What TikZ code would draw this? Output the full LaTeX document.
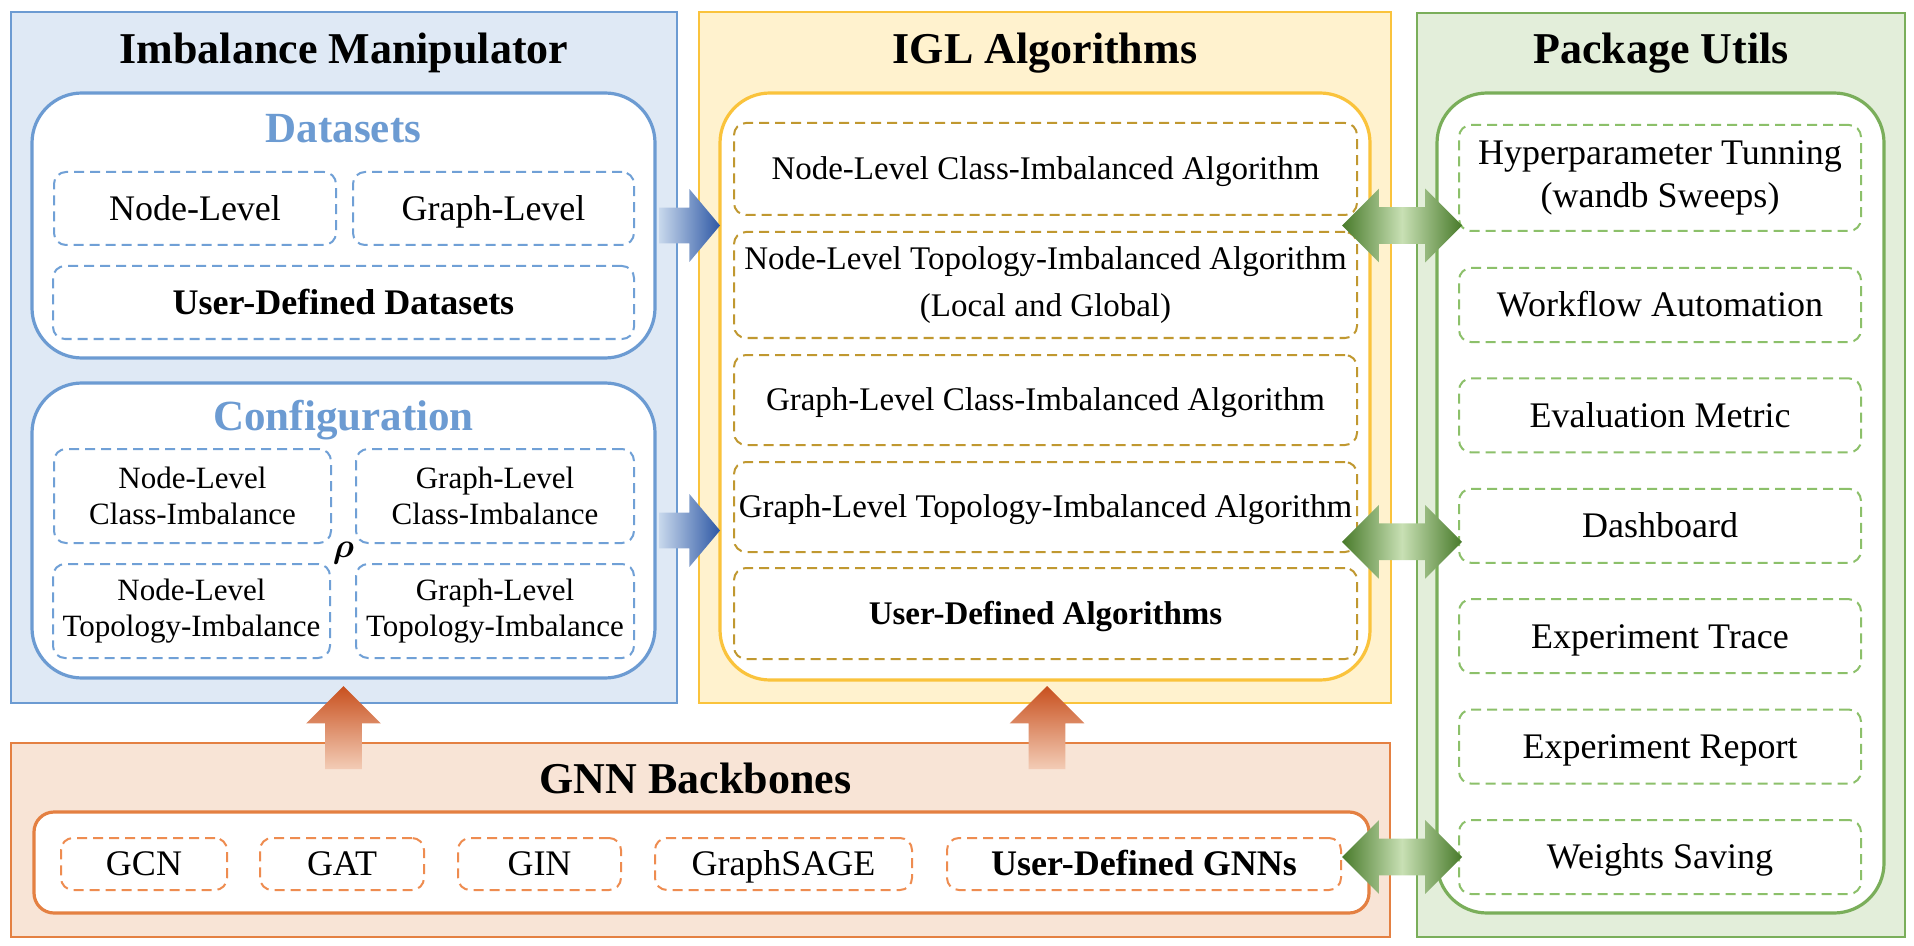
\documentclass[tikz,border=0pt]{standalone}
\usepackage{amsmath}
\usepackage{fontspec}
\setmainfont{Liberation Serif}
\usepackage{tikz}
\usetikzlibrary{positioning,shapes,shapes.arrows,calc}

\definecolor{blueline}{RGB}{108,155,210}
\definecolor{bluefill}{RGB}{223,233,245}
\definecolor{bluedash}{RGB}{112,160,214}
\definecolor{yellowline}{RGB}{250,195,60}
\definecolor{yellowfill}{RGB}{255,242,206}
\definecolor{yellowdash}{RGB}{192,152,48}
\definecolor{greenline}{RGB}{122,174,90}
\definecolor{greenfill}{RGB}{227,238,218}
\definecolor{greendash}{RGB}{140,192,106}
\definecolor{orangeline}{RGB}{228,128,66}
\definecolor{orangefill}{RGB}{248,228,214}
\definecolor{orangedash}{RGB}{238,140,80}
\definecolor{bdark}{RGB}{46,88,165}
\definecolor{blight}{RGB}{200,216,236}
\definecolor{odark}{RGB}{200,80,30}
\definecolor{olight}{RGB}{243,204,182}
\definecolor{gdark}{RGB}{72,122,42}
\definecolor{glight}{RGB}{200,224,180}

\begin{document}
\begin{tikzpicture}[x=0.5pt, y=-0.5pt]
	\tikzstyle{panel}
	  =[draw, rectangle, line width=1.3pt, inner sep=0pt, outer sep=0pt]
	\tikzstyle{box}
	  =[draw, fill=white, rectangle, rounded corners=25pt, line width=1.6pt,
	  inner sep=0pt, outer sep=0pt]
	\tikzstyle{title}
	  =[font=\fontsize{22pt}{26pt}\selectfont\bfseries, text height=14.5pt,
	  text depth=0pt, inner sep=0pt]
	\tikzstyle{subtitle}
	  =[font=\fontsize{21.5pt}{26pt}\selectfont\bfseries, text=blueline,
	  text height=14.2pt, text depth=0pt, inner sep=0pt]
	\tikzstyle{item}
	  =[draw, rectangle, rounded corners=6pt, line width=1pt,
	  dash pattern=on 5pt off 3pt, align=center, inner sep=1pt, outer sep=0pt]

	\tikzstyle{item_data}
	  =[item, draw=bluedash, minimum width=141pt, minimum height=36.5pt,
	  font=\fontsize{18pt}{21pt}\selectfont, text height=11.9pt, text depth=0pt]
	\tikzstyle{item_conf}
	  =[item, draw=bluedash, minimum width=138.5pt, minimum height=47pt,
	  font=\fontsize{15.5pt}{18pt}\selectfont]
	\tikzstyle{item_alg}
	  =[item, draw=yellowdash, minimum width=311.5pt, minimum height=45pt,
	  font=\fontsize{16.5pt}{23.5pt}\selectfont, text height=10.9pt, text depth=0pt]
	\tikzstyle{item_alg_xl}
	  =[item, draw=yellowdash, minimum width=311.5pt, minimum height=53pt,
	  font=\fontsize{16.5pt}{23.5pt}\selectfont]
	\tikzstyle{item_util}
	  =[item, draw=greendash, minimum width=201pt, minimum height=37pt,
	  font=\fontsize{18pt}{21.5pt}\selectfont, text height=11.9pt, text depth=0pt]
	\tikzstyle{item_util_xl}
	  =[item, draw=greendash, minimum width=201pt, minimum height=53pt,
	  font=\fontsize{18pt}{21.5pt}\selectfont]
	\tikzstyle{item_gnn}
	  =[item, draw=orangedash, minimum height=26pt,
	  font=\fontsize{18pt}{21pt}\selectfont, text height=11.9pt, text depth=0pt]

	\tikzstyle{barrow}
	  =[single arrow, minimum height=30.5pt, minimum width=36pt,
	  single arrow head extend=9.25pt, single arrow tip angle=100,
	  inner xsep=0pt, inner ysep=8.75pt, outer sep=0pt,
	  left color=blight, right color=bdark]
	\tikzstyle{oarrow}
	  =[single arrow, shape border rotate=90, minimum height=41.5pt,
	  minimum width=37pt, single arrow head extend=9.5pt,
	  inner sep=9pt, outer sep=0pt, top color=odark, bottom color=olight]
	\tikzstyle{garrow}
	  =[double arrow, minimum height=60pt, minimum width=36.5pt,
	  double arrow head extend=9.25pt, inner sep=9pt, outer sep=0pt,
	  left color=gdark, right color=gdark, middle color=glight]

	\useasboundingbox (0,0) rectangle (1914,946);

	% panels
	\node[panel, draw=blueline, fill=bluefill, anchor=north west,
	  minimum width=333pt, minimum height=345.5pt] (P1)
	  at (11,12) {};
	\node[panel, draw=yellowline, fill=yellowfill,
	  minimum width=346pt, minimum height=345.5pt] (P2)
	  [right=11pt of P1] {};
	\node[panel, draw=greenline, fill=greenfill,
	  minimum width=244pt, minimum height=462pt] (P3)
	  [below right=0.5pt and 13pt of P2.north east] {};
	\node[panel, draw=orangeline, fill=orangefill,
	  minimum width=689.5pt, minimum height=97pt] (P4)
	  [below right=20pt and 0pt of P1.south west] {};

	\node[title] (T1)
	  at ($(P1.north)+(0,37.5)$) {Imbalance Manipulator};
	\node[title] (T2)
	  at ($(P2.north)+(0,37.5)$) {IGL Algorithms};
	\node[title] (T3)
	  at ($(P3.north)+(0,36.5)$) {Package Utils};
	\node[title] (T4)
	  at ($(P4.north)+(-5,35.5)$) {GNN Backbones};

	% imbalance manipulator
	\node[box, draw=blueline, minimum width=311.5pt, minimum height=132.5pt] (DS)
	  [below right=40.5pt and 10.5pt of P1.north west] {};
	\node[subtitle] (DST)
	  at ($(DS.north)+(0,35)$) {Datasets};
	\node[item_data] (D1)
	  [below right=39.5pt and 11pt of DS.north west] {Node-Level};
	\node[item_data, minimum width=140.5pt] (D2)
	  [right=8.5pt of D1] {Graph-Level};
	\node[item_data, minimum width=290.5pt] (D3)
	  [below right=10.5pt and -0.5pt of D1.south west] {\textbf{User-Defined Datasets}};

	\node[box, draw=blueline, minimum width=311.5pt, minimum height=147.5pt] (CF)
	  [below=12.5pt of DS] {};
	\node[subtitle] (CFT)
	  at ($(CF.north)+(0,33)$) {Configuration};
	\node[item_conf] (C1)
	  [below right=33pt and 11pt of CF.north west] {Node-Level\\Class-Imbalance};
	\node[item_conf, minimum width=139pt] (C2)
	  [right=12.5pt of C1] {Graph-Level\\Class-Imbalance};
	\node[item_conf] (C3)
	  [below right=10.5pt and -0.5pt of C1.south west] {Node-Level\\Topology-Imbalance};
	\node[item_conf, minimum width=139pt] (C4)
	  [below right=10.5pt and 0pt of C2.south west] {Graph-Level\\Topology-Imbalance};
	\node[inner sep=0pt] (rho)
	  at ($(C1.south east)!0.5!(C4.north west)$) {\fontsize{17pt}{20pt}\selectfont$\boldsymbol{\rho}$};

	% algorithms
	\node[box, draw=yellowline, minimum width=325pt, minimum height=293.5pt] (AL)
	  [below right=40.5pt and 10.5pt of P2.north west] {};
	\node[item_alg, minimum height=46pt] (A1)
	  [below right=15pt and 7pt of AL.north west] {Node-Level Class-Imbalanced Algorithm};
	\node[item_alg_xl] (A2)
	  [below=8.5pt of A1] {Node-Level Topology-Imbalanced Algorithm\\(Local and Global)};
	\node[item_alg] (A3)
	  [below=8.5pt of A2] {Graph-Level Class-Imbalanced Algorithm};
	\node[item_alg] (A4)
	  [below=8.5pt of A3] {Graph-Level Topology-Imbalanced Algorithm};
	\node[item_alg, minimum height=45.5pt] (A5)
	  [below=8pt of A4] {\textbf{User-Defined Algorithms}};

	% utils
	\node[box, draw=greenline, minimum width=223.5pt, minimum height=410pt] (UT)
	  [below right=40pt and 10pt of P3.north west] {};
	\node[item_util_xl] (U1)
	  [below right=16pt and 11pt of UT.north west] {Hyperparameter Tunning\\(wandb Sweeps)};
	\node[item_util] (U2)
	  [below=18.5pt of U1] {Workflow Automation};
	\node[item_util] (U3)
	  [below=18.2pt of U2] {Evaluation Metric};
	\node[item_util] (U4)
	  [below=18.2pt of U3] {Dashboard};
	\node[item_util] (U5)
	  [below=18.2pt of U4] {Experiment Trace};
	\node[item_util] (U6)
	  [below=18.2pt of U5] {Experiment Report};
	\node[item_util] (U7)
	  [below=18.2pt of U6] {Weights Saving};

	% backbones
	\node[box, draw=orangeline, rounded corners=10pt,
	  minimum width=667.5pt, minimum height=50.5pt] (GB)
	  [below right=34.5pt and 11.5pt of P4.north west] {};
	\node[item_gnn, minimum width=83pt] (B1)
	  [below right=13pt and 13.5pt of GB.north west] {GCN};
	\node[item_gnn, minimum width=82pt] (B2)
	  [right=16.5pt of B1] {GAT};
	\node[item_gnn, minimum width=81.5pt] (B3)
	  [right=17pt of B2] {GIN};
	\node[item_gnn, minimum width=128.5pt] (B4)
	  [right=17pt of B3] {GraphSAGE};
	\node[item_gnn, minimum width=197pt] (B5)
	  [right=17.5pt of B4] {\textbf{User-Defined GNNs}};

	% block arrows
	\node[barrow, anchor=tip] (a1) at (AL.west |- DS.east) {};
	\node[barrow, anchor=tip] (a2) at (AL.west |- CF.east) {};
	\node[oarrow, anchor=tip] (o1) at ($(CF.south)+(0,8)$) {};
	\node[oarrow, anchor=tip] (o2) at ($(AL.south)+(2,6)$) {};
	\node[garrow] (g1) at ($(U1.west |- DS.east)+(-57,0)$) {};
	\node[garrow] (g2) at ($(U4.west)+(-57,16)$) {};
	\node[garrow] (g3) at ($(U7.west)+(-57,0)$) {};
\end{tikzpicture}
\end{document}
